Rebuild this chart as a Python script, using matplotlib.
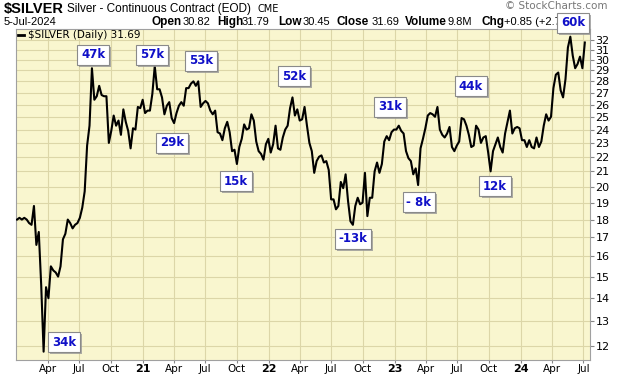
import numpy as np
import pandas as pd
import matplotlib.pyplot as plt
import matplotlib.ticker as mticker
import matplotlib.patheffects as pe

# weekly (Friday) silver values, 2020-01-03 .. 2024-07-05
v2020 = [18.0, 18.1, 18.0, 18.1, 18.0,
         17.8, 17.7, 18.8, 16.6,
         17.3, 14.6, 11.8, 14.5,
         14.0, 15.5, 15.3, 15.2,
         15.0, 15.5, 16.9, 17.2, 18.0,
         17.8, 17.5, 17.7, 17.8,
         18.1, 18.7, 19.7, 22.8, 24.3,
         29.2, 26.4, 26.7, 27.6,
         26.8, 26.7, 26.7, 23.0,
         23.9, 25.1, 24.3, 24.7, 23.6,
         25.6, 24.6, 23.9, 22.6,
         24.1, 24.0, 25.8, 25.7]
v2021 = [26.4, 25.3, 25.5, 25.5, 26.9,
         29.4, 27.3, 27.3, 26.6,
         25.2, 25.9, 26.2, 24.9,
         24.5, 25.3, 25.9, 26.2, 25.9,
         27.4, 27.4, 27.8, 28.0,
         27.6, 28.0, 25.8, 26.1,
         26.3, 26.1, 25.5, 25.2, 25.5,
         23.8, 23.7, 23.2, 24.1,
         24.6, 23.8, 22.4, 22.5,
         21.5, 22.7, 23.3, 24.4, 24.0,
         24.1, 25.2, 24.7, 23.1,
         22.4, 22.2, 21.8, 22.9, 23.3]
v2022 = [22.3, 22.9, 24.3, 22.6,
         22.5, 23.4, 24.0, 24.3,
         25.7, 26.6, 25.1, 25.6,
         24.7, 24.8, 25.8, 24.3, 23.0,
         22.4, 20.9, 21.7, 22.0,
         22.1, 21.6, 21.7, 21.1,
         19.2, 19.2, 18.6, 18.8, 20.3,
         19.9, 20.8, 19.1, 17.9,
         17.7, 18.8, 19.3, 18.9, 19.0,
         20.9, 18.2, 19.3, 19.3,
         21.0, 21.6, 20.9, 21.5,
         23.1, 23.5, 23.2, 23.8, 24.0]
v2023 = [24.0, 24.3, 23.9, 23.7,
         22.4, 21.9, 21.7, 20.8,
         21.2, 20.1, 22.6, 23.3, 24.1,
         25.1, 25.3, 25.2, 25.0,
         25.8, 24.0, 23.6, 23.4,
         23.7, 24.2, 22.7, 22.4, 22.8,
         23.1, 24.9, 24.8, 24.3,
         23.6, 22.7, 22.8, 24.3,
         24.0, 23.0, 23.4, 23.5, 22.3,
         21.0, 22.4, 22.9, 23.4,
         22.7, 22.3, 23.7, 24.6,
         25.5, 23.7, 24.1, 24.2, 24.1]
v2024 = [23.2, 23.2, 22.7, 23.2,
         22.7, 22.6, 23.4, 22.7,
         23.1, 24.3, 25.2, 24.7, 25.0,
         27.4, 28.6, 28.8, 27.2,
         26.6, 28.2, 31.2, 32.3, 30.4,
         29.2, 29.6, 30.3, 29.2,
         31.7]

vals = v2020 + v2021 + v2022 + v2023 + v2024
dates = pd.date_range('2020-01-03', periods=len(vals), freq='W-FRI')

yticks = list(range(12, 33))

# callout labels and where they sit (pixel centres in the 620x376 image)
notes = ['34k', '47k', '57k', '29k', '53k', '15k', '52k', '-13k', '31k', '- 8k', '44k', '12k', '60k']
note_x = [64, 93, 152, 172, 201, 236, 294, 353, 390, 419, 471, 495, 573]
note_y = [342, 55, 55, 143, 61, 181, 76, 239, 107, 202, 86, 186, 23]

W, H = 620, 376
fig = plt.figure(figsize=(W / 100, H / 100), dpi=100)
fig.patch.set_facecolor('white')
ax = fig.add_axes([16 / W, 1 - 360 / H, (590 - 16) / W, (360 - 29) / H])


def fx(x):
    return x / W


def fy(y):
    return 1 - y / H


ax.set_facecolor('#f9f6cf')
ax.plot(dates, vals, color='black', lw=1.5, zorder=3)
ax.set_yscale('log')
ax.set_ylim(11.49, 33.1)
ax.set_xlim(pd.Timestamp('2019-12-31'), pd.Timestamp('2024-07-20'))

ax.yaxis.tick_right()
ax.yaxis.set_major_locator(mticker.FixedLocator(yticks))
ax.yaxis.set_major_formatter(mticker.FixedFormatter([str(t) for t in yticks]))
ax.yaxis.set_minor_locator(mticker.NullLocator())
ax.yaxis.set_minor_formatter(mticker.NullFormatter())
ax.tick_params(axis='y', labelsize=8, length=3, pad=1, color='#888888')

xt = pd.date_range('2020-04-01', '2024-07-01', freq='QS')
xl = [d.strftime('%y') if d.month == 1 else d.strftime('%b') for d in xt]
ax.set_xticks(xt)
ax.set_xticklabels(xl)
ax.tick_params(axis='x', labelsize=7.5, length=2, pad=1, color='#888888')
for t, d in zip(ax.get_xticklabels(), xt):
    if d.month == 1:
        t.set_fontweight('bold')
        t.set_fontsize(8)

ax.grid(True, color='#dcd6a8', lw=0.8, zorder=0)
for s in ax.spines.values():
    s.set_color('#a0a0a0')
    s.set_linewidth(0.8)

# legend line inside the plot
ax.plot([0.003, 0.014], [0.983, 0.983], transform=ax.transAxes, color='black', lw=2, clip_on=False)
fig.text(fx(28), fy(35), '$SILVER (Daily) 31.69', fontsize=7.5, va='center', ha='left')

# header
fig.text(fx(4), fy(9), '$SILVER', fontsize=10.5, fontweight='bold', family='Liberation Sans',
         va='center', ha='left')
fig.text(fx(67), fy(9), 'Silver - Continuous Contract (EOD)', fontsize=8.5,
         family='Liberation Sans', va='center', ha='left')
fig.text(fx(258), fy(9), 'CME', fontsize=7, va='center', ha='left')
fig.text(fx(4), fy(22), '5-Jul-2024', fontsize=8, family='Liberation Sans', va='center', ha='left')
head = [('Open', 152, True), ('30.82', 183, False), ('High', 217, True), ('31.79', 242, False),
        ('Low', 278, True), ('30.45', 303, False), ('Close', 336, True), ('31.69', 372, False),
        ('Volume', 405, True), ('9.8M', 447, False), ('Chg', 481, True), ('+0.85 (+2.7', 504, False)]
for txt, x, b in head:
    fig.text(fx(x), fy(22), txt, fontsize=8.5 if b else 8, family='Liberation Sans',
             fontweight='bold' if b else 'normal', va='center', ha='left')
fig.text(fx(505), fy(6), '\u00a9 StockCharts.com', fontsize=7.5, color='#777777', va='center', ha='left')

# callout boxes
for lab, x, y in zip(notes, note_x, note_y):
    t = fig.text(fx(x), fy(y), lab, fontsize=8.5, fontweight='bold', color='#1010c8',
                 ha='center', va='center', zorder=10,
                 bbox=dict(boxstyle='square,pad=0.3', fc='white', ec='#8a8a8a', lw=0.8))
    t.get_bbox_patch().set_path_effects([pe.withSimplePatchShadow(offset=(1.5, -1.5), shadow_rgbFace='#999999', alpha=0.8)])

plt.savefig('out.png', dpi=100)
